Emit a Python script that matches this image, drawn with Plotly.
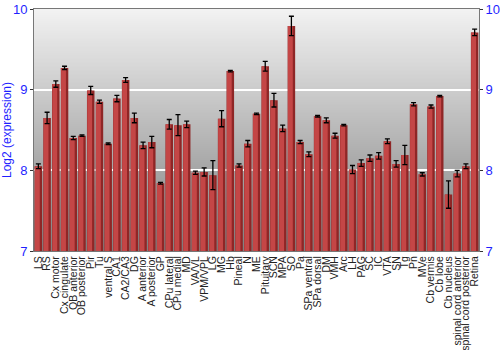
import plotly.graph_objects as go

regions = ["LS", "RS", "Cx motor", "Cx cingulate", "OB anterior", "OB posterior", "Pir", "Tu",
           "ventral S", "CA1", "CA2/CA3", "DG", "A anterior", "A posterior", "GP", "CPu lateral",
           "CPu medial", "MD", "VA/VL", "VPM/VPL", "LG", "MG", "Hb", "Pineal", "N", "ME",
           "Pituitary", "SCN", "MPA", "SO", "Pa", "SPa ventral", "SPa dorsal", "DM", "VMH", "Arc",
           "LH", "PAG", "SC", "IC", "VTA", "SN", "Tg", "Pn", "MVe", "Cb vermis", "Cb lobe",
           "Cb nucleus", "spinal cord anterior", "spinal cord posterior", "Retina"]
expression = [8.05, 8.65, 9.07, 9.27, 8.40, 8.43, 8.99, 8.85,
              8.33, 8.89, 9.12, 8.65, 8.31, 8.35, 7.84, 8.57,
              8.56, 8.57, 7.97, 7.98, 7.94, 8.64, 9.23, 8.06, 8.33, 8.70,
              9.29, 8.87, 8.52, 9.79, 8.35, 8.20, 8.67, 8.62, 8.43, 8.56,
              8.01, 8.09, 8.15, 8.18, 8.36, 8.08, 8.19, 8.82, 7.95, 8.79, 8.92,
              7.70, 7.96, 8.05, 9.71]
stderr = [0.03, 0.07, 0.04, 0.02, 0.02, 0.01, 0.05, 0.02,
          0.01, 0.04, 0.03, 0.06, 0.04, 0.07, 0.01, 0.06,
          0.13, 0.04, 0.02, 0.05, 0.18, 0.10, 0.01, 0.02, 0.04, 0.01,
          0.06, 0.085, 0.04, 0.12, 0.02, 0.03, 0.01, 0.03, 0.03, 0.01,
          0.05, 0.04, 0.04, 0.04, 0.03, 0.04, 0.12, 0.02, 0.02, 0.02, 0.01,
          0.17, 0.04, 0.03, 0.04]
y_ticks = [7, 8, 9, 10]
y_range = [7, 10]

blue = "#1f1fff"
fig = go.Figure()

# bar body (darker shade) and highlight (lighter left part)
fig.add_trace(go.Bar(x=regions, y=expression, width=0.86,
                     marker=dict(color="#8f2626", line=dict(width=0)),
                     showlegend=False, hoverinfo="skip"))
fig.add_trace(go.Bar(x=regions, y=expression, width=0.56, offset=-0.40,
                     marker=dict(color="#c44646", line=dict(width=0)),
                     showlegend=False, hoverinfo="skip"))
# error bars on top
fig.add_trace(go.Scatter(x=regions, y=expression, mode="markers",
                         marker=dict(size=1, opacity=0),
                         error_y=dict(type="data", array=stderr, visible=True,
                                      color="black", thickness=1.3, width=2.5),
                         showlegend=False, hoverinfo="skip"))
# invisible trace for right axis
fig.add_trace(go.Scatter(x=regions[:1], y=[y_range[0]], yaxis="y2", mode="markers",
                         marker=dict(size=1, opacity=0), showlegend=False, hoverinfo="skip"))

# gradient background (overlapping bands to avoid seams)
n = 120
span = y_range[1] - y_range[0]
shapes = []
for i in range(n):
    t = (i + 0.5) / n
    g = int(round(242 - (242 - 128) * t))
    y1 = y_range[1] - span * i / n
    y0 = max(y_range[0], y_range[1] - span * (i + 1.6) / n)
    shapes.append(dict(type="rect", xref="paper", yref="y", x0=0, x1=1, y0=y0, y1=y1,
                       fillcolor=f"rgb({g},{g},{g})", line=dict(width=0), layer="below"))

fig.update_layout(
    width=500, height=350,
    margin=dict(l=34, r=21, t=9, b=99),
    paper_bgcolor="white", plot_bgcolor="rgba(0,0,0,0)",
    barmode="overlay", bargap=0.1,
    shapes=shapes,
    font=dict(family="Liberation Sans, Arial, sans-serif"),
    xaxis=dict(tickangle=-90, tickfont=dict(size=10.5, color="#222"),
               tickmode="array", tickvals=regions, ticktext=regions,
               range=[-0.5, len(regions) - 0.5], autorange=False,
               showline=True, linecolor="#777", linewidth=1, mirror=True,
               ticks="", showgrid=False, fixedrange=True, automargin=False),
    yaxis=dict(range=y_range, tickvals=y_ticks, tickfont=dict(size=13, color=blue),
               title=dict(text="Log2 (expression)", font=dict(size=12, color=blue), standoff=4),
               showgrid=True, gridcolor="white", gridwidth=1.5, zeroline=False,
               showline=True, linecolor="#777", linewidth=1,
               ticks="outside", ticklen=3, tickcolor="#333", automargin=False),
    yaxis2=dict(range=y_range, tickvals=y_ticks, tickfont=dict(size=13, color=blue),
                overlaying="y", side="right", showgrid=False, zeroline=False,
                showline=True, linecolor="#777", linewidth=1,
                ticks="outside", ticklen=3, tickcolor="#333", automargin=False),
)

fig.write_html("out.html")
